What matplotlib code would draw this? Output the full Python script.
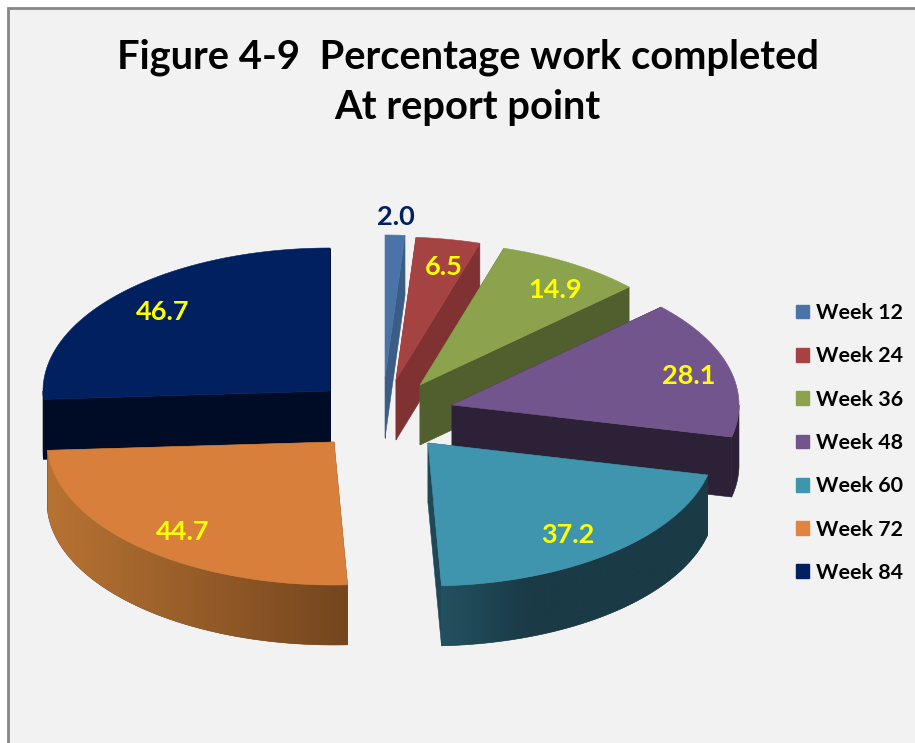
import numpy as np
import matplotlib
matplotlib.use("Agg")
import matplotlib.pyplot as plt
from matplotlib.colors import LinearSegmentedColormap
from matplotlib.patches import Patch, Polygon, Rectangle

# data
weeks = ["Week 12", "Week 24", "Week 36", "Week 48", "Week 60", "Week 72", "Week 84"]
values = [2.0, 6.5, 14.9, 28.1, 37.2, 44.7, 46.7]

# styling
top_colors = ["#4a74a8", "#a54342", "#8aa34c", "#72558c", "#4095ae", "#d87f3b", "#002060"]
side_colors = ["#3a5c85", "#7f3231", "#505f2d", "#2c2137", "#1f4756", "#74461e", "#000c26"]
label_colors = ["#002060", "yellow", "yellow", "yellow", "yellow", "yellow", "yellow"]
legend_colors = ["#4a74a8", "#a54342", "#8aa34c", "#72558c", "#4095ae", "#e0843f", "#002060"]

# exploded slice layout, in pixels
apex_x = [385, 396, 420, 452, 428, 334, 330]
apex_y = [378, 380, 385, 405, 443, 442, 391]
label_dx = [-1, 6, 14, 15, -7, 2, 0]
label_dy = [3, -1, 2, 1, 4, 5, -1]
rx, ry, depth = 287, 143, 60

# outer wall gradients: x range and colours
wall_stops = {
    4: (441, 710, ["#235160", "#1a3a46", "#1a3a46", "#1a3a46"]),
    5: (47, 348, ["#b87333", "#74461e"]),
}
draw_order = [0, 1, 2, 6, 3, 4, 5]

plt.rcParams["font.family"] = ["Lato", "DejaVu Sans"]

fig = plt.figure(figsize=(9.15, 7.43), dpi=100, facecolor="white")
ax = fig.add_axes([0, 0, 1, 1])

ax.add_patch(Rectangle((8, 8), 950, 780, facecolor="#f2f2f2", edgecolor="#868686", linewidth=2))

edges = np.concatenate([[0], np.cumsum(values)]) / np.sum(values) * 2 * np.pi


def rim(i, theta):
    return apex_x[i] + rx * np.sin(theta), apex_y[i] - ry * np.cos(theta)


for i in draw_order:
    t0, t1 = edges[i], edges[i + 1]
    thetas = np.linspace(t0, t1, 121)
    xr, yr = rim(i, thetas)
    ax0, ay0 = apex_x[i], apex_y[i]

    # radial faces
    for t in (t0, t1):
        x1, y1 = rim(i, t)
        ax.add_patch(Polygon([(ax0, ay0), (x1, y1), (x1, y1 + depth), (ax0, ay0 + depth)],
                             facecolor=side_colors[i], edgecolor=side_colors[i], linewidth=0.4))
    # outer wall, only the part that faces the viewer
    w0, w1 = max(t0, np.pi / 2), min(t1, 3 * np.pi / 2)
    if w1 > w0:
        xw, yw = rim(i, np.linspace(w0, w1, 121))
        wall = Polygon(np.column_stack([np.r_[xw, xw[::-1]], np.r_[yw, yw[::-1] + depth]]),
                       facecolor=side_colors[i], edgecolor=side_colors[i], linewidth=0.4)
        ax.add_patch(wall)
        if i in wall_stops:
            x_lo, x_hi, cols = wall_stops[i]
            cmap = LinearSegmentedColormap.from_list(f"wall{i}", cols)
            im = ax.imshow(np.linspace(0, 1, 256)[None, :], cmap=cmap, aspect="auto",
                           extent=(x_lo, x_hi, 743, 0), zorder=wall.get_zorder())
            im.set_clip_path(wall)
    # top surface
    ax.add_patch(Polygon(np.column_stack([np.r_[ax0, xr], np.r_[ay0, yr]]),
                         facecolor=top_colors[i], edgecolor=top_colors[i], linewidth=0.4))

# data labels
for i, v in enumerate(values):
    mid = (edges[i] + edges[i + 1]) / 2
    frac = 1.15 if i == 0 else 0.8
    x = apex_x[i] + frac * rx * np.sin(mid) + label_dx[i]
    y = apex_y[i] - frac * ry * np.cos(mid) + label_dy[i]
    ax.text(x, y, f"{v:.1f}", color=label_colors[i], fontsize=19.5, fontweight="bold",
            ha="center", va="center")

ax.text(468, 57, "Figure 4-9  Percentage work completed", fontsize=28.7, fontweight="bold",
        color="black", ha="center", va="center")
ax.text(467, 107, "At report point", fontsize=28.7, fontweight="bold",
        color="black", ha="center", va="center")

handles = [Patch(facecolor=c, edgecolor=c, label=w) for c, w in zip(legend_colors, weeks)]
ax.legend(handles=handles, loc="center left", bbox_to_anchor=(796, 443),
          bbox_transform=ax.transData, frameon=False, borderpad=0, borderaxespad=0,
          prop={"size": 15.4, "weight": "bold"}, handlelength=0.62, handleheight=0.62,
          handletextpad=0.3, labelspacing=1.09)

ax.set_xlim(0, 915)
ax.set_ylim(743, 0)
ax.axis("off")

fig.savefig("out.png", dpi=100, facecolor=fig.get_facecolor())
